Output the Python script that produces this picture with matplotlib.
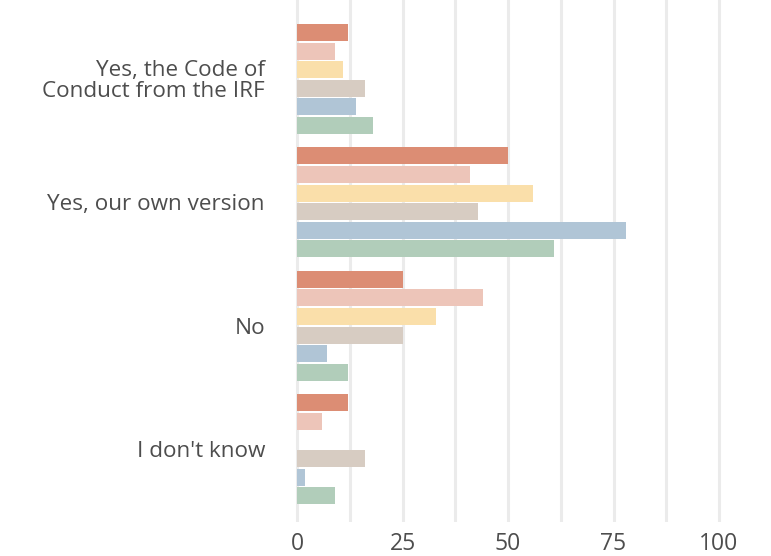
import matplotlib
matplotlib.use("Agg")
import matplotlib.pyplot as plt
import numpy as np

categories = ["Yes, the Code of\nConduct from the IRF", "Yes, our own version", "No", "I don't know"]
series_names = ["Series A", "Series B", "Series C", "Series D", "Series E", "Series F"]
series_values = [
    [12, 50, 25, 12],
    [9, 41, 44, 6],
    [11, 56, 33, 0],
    [16, 43, 25, 16],
    [14, 78, 7, 2],
    [18, 61, 12, 9],
]
series_colors = ["#DC8D74", "#EDC5B9", "#FADFAA", "#D7CCC2", "#B0C5D6", "#B1CDBA"]
x_ticks = [0, 25, 50, 75, 100]

W, H = 771, 556
fig = plt.figure(figsize=(W / 100, H / 100), dpi=100)
ppu = (719 - 297) / 100.0
left_px = 297 - 2 * ppu
right_px = 719 + 2 * ppu
ax = fig.add_axes([left_px / W, (H - 522) / H, (right_px - left_px) / W, 522 / H])

n = len(series_values)
pitch = 0.151
height = 0.138
y = np.arange(len(categories))
for i, (vals, col, name) in enumerate(zip(series_values, series_colors, series_names)):
    offs = (i - (n - 1) / 2) * pitch
    ax.barh(y + offs, vals, height=height, color=col, label=name, zorder=3)

ax.set_xlim(-2, 102)
ax.set_ylim(3.59, -0.64)
ax.set_xticks(x_ticks)
ax.set_xticks([12.5, 37.5, 62.5, 87.5], minor=True)
ax.set_yticks(y)
ax.set_yticklabels(categories)
ax.grid(axis="x", which="both", color="#EBEBEB", linewidth=2.2, zorder=0)
ax.grid(axis="y", visible=False)
for s in ax.spines.values():
    s.set_visible(False)
ax.tick_params(axis="both", which="both", length=0)
ax.tick_params(axis="x", pad=7)
ax.tick_params(axis="y", pad=17)
for lab in ax.get_yticklabels():
    lab.set_fontfamily("Open Sans")
    lab.set_fontsize(16.2)
    lab.set_color("#4D4D4D")
    lab.set_linespacing(1.0)
    lab.set_horizontalalignment("right")
for lab in ax.get_xticklabels():
    lab.set_fontfamily("Open Sans")
    lab.set_fontsize(16.5)
    lab.set_color("#4D4D4D")

fig.savefig("out.png", dpi=100)
